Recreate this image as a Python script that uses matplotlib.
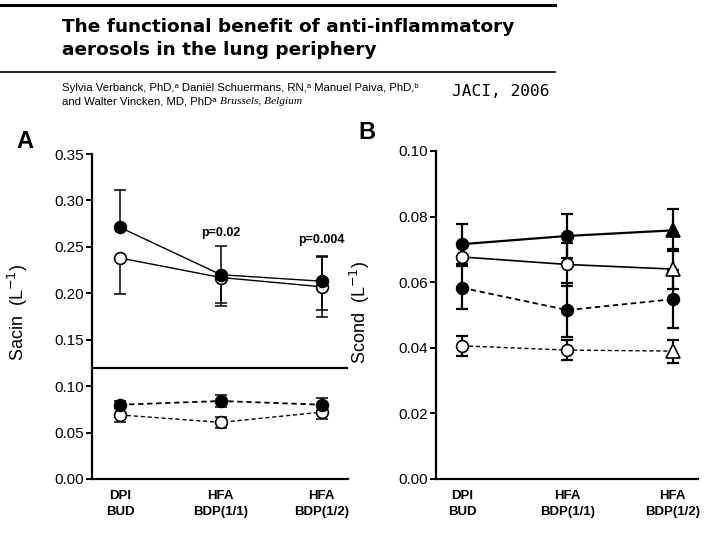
import matplotlib
matplotlib.use('Agg')
import matplotlib.pyplot as plt
from matplotlib.text import Annotation
import numpy as np

plt.rcParams['font.family'] = ['Liberation Sans', 'DejaVu Sans']

# categories on the x axis
categories = ['DPI\nBUD', 'HFA\nBDP(1/1)', 'HFA\nBDP(1/2)']

# panel A - Sacin (solid = upper pair, dashed = lower pair)
a_fill_solid = [0.271, 0.220, 0.213]
a_fill_solid_lo = [0.0, 0.030, 0.031]
a_fill_solid_hi = [0.040, 0.031, 0.027]
a_open_solid = [0.238, 0.217, 0.207]
a_open_solid_lo = [0.039, 0.031, 0.032]
a_open_solid_hi = [0.0, 0.0, 0.032]
a_fill_dash = [0.080, 0.084, 0.080]
a_fill_dash_err = [0.004, 0.006, 0.007]
a_open_dash = [0.069, 0.061, 0.072]
a_open_dash_err = [0.008, 0.006, 0.007]
p_labels = ['', 'p=0.02', 'p=0.004']
p_values_y = [0.0, 0.265, 0.257]

# panel B - Scond
b_fill_solid = [0.0716, 0.0741, 0.0758]
b_fill_solid_err = [0.0061, 0.0067, 0.0064]
b_open_solid = [0.0677, 0.0654, 0.0640]
b_open_solid_err = [0.0, 0.0065, 0.006]
b_fill_dash = [0.0583, 0.0515, 0.0548]
b_fill_dash_err = [0.0066, 0.0082, 0.0088]
b_open_dash = [0.0406, 0.0393, 0.0390]
b_open_dash_err = [0.0030, 0.0031, 0.0035]

x = np.arange(len(categories))
fig = plt.figure(figsize=(7.2, 5.4), dpi=100)

# ---- header ----
fig.add_artist(plt.Line2D([0, 555 / 720], [1 - 5 / 540] * 2, color='black', lw=2.2))
fig.add_artist(plt.Line2D([0, 555 / 720], [1 - 72 / 540] * 2, color='black', lw=1.2))
fig.text(62 / 720, 1 - 27 / 540, 'The functional benefit of anti-inflammatory',
         fontsize=13.3, fontweight='bold', family='DejaVu Sans', va='center', ha='left')
fig.text(62 / 720, 1 - 50 / 540, 'aerosols in the lung periphery',
         fontsize=13.3, fontweight='bold', family='DejaVu Sans', va='center', ha='left')
fig.text(62 / 720, 1 - 88 / 540,
         'Sylvia Verbanck, PhD,\u1d43 Daniël Schuermans, RN,\u1d43 Manuel Paiva, PhD,\u1d47',
         fontsize=8.2, va='center', ha='left')
t2 = fig.text(62 / 720, 1 - 102 / 540, 'and Walter Vincken, MD, PhD\u1d43 ',
              fontsize=8.2, va='center', ha='left')
fig.add_artist(Annotation('Brussels, Belgium', xy=(1, 0.5), xycoords=t2, va='center',
                          ha='left', fontsize=8.2, style='italic', family='Liberation Serif'))
fig.text(452 / 720, 1 - 91 / 540, 'JACI, 2006', fontsize=11.7,
         family='DejaVu Sans Mono', va='center', ha='left')

fig.text(25 / 720, 1 - 142 / 540, 'A', fontsize=17, fontweight='bold', ha='center', va='center')
fig.text(367 / 720, 1 - 133 / 540, 'B', fontsize=17, fontweight='bold', ha='center', va='center')


def style_axes(ax, ymax, step, fmt):
    for s in ['top', 'right']:
        ax.spines[s].set_visible(False)
    for s in ['left', 'bottom']:
        ax.spines[s].set_linewidth(1.6)
    ax.set_ylim(0, ymax)
    ticks = np.arange(0, ymax + step / 2, step)
    ax.set_yticks(ticks)
    ax.set_yticklabels([fmt % v for v in ticks])
    ax.tick_params(axis='y', direction='out', length=4, width=1.4, labelsize=11, pad=2)
    ax.tick_params(axis='x', length=0, pad=8)
    ax.set_xticks(x)
    ax.set_xticklabels(categories, fontsize=9.5, fontweight='bold', linespacing=1.45)


def series(ax, y, lo, hi, filled, ls, lw, ew, markers=('o', 'o', 'o')):
    ax.errorbar(x, y, yerr=[lo, hi], fmt='none', ecolor='black', elinewidth=ew,
                capsize=4, capthick=ew, zorder=2)
    ax.plot(x, y, color='black', lw=lw, ls=ls, zorder=3)
    for xi, yi, m in zip(x, y, markers):
        ax.plot(xi, yi, marker=m, ms=8.5 if m == 'o' else 9.5,
                mfc='black' if filled else 'white', mec='black', mew=1.2,
                ls='none', zorder=4)


# ---- panel A ----
axA = fig.add_axes([92 / 720, 1 - 479 / 540, 256 / 720, 325 / 540])
axA.set_xlim(-0.277, 2.26)
style_axes(axA, 0.35, 0.05, '%.2f')
dash = (0, (3, 2))
series(axA, a_open_solid, a_open_solid_lo, a_open_solid_hi, False, '-', 1.0, 1.1)
series(axA, a_fill_solid, a_fill_solid_lo, a_fill_solid_hi, True, '-', 1.0, 1.1)
series(axA, a_open_dash, a_open_dash_err, a_open_dash_err, False, dash, 1.0, 1.1)
series(axA, a_fill_dash, a_fill_dash_err, a_fill_dash_err, True, dash, 1.3, 1.1)
axA.axhline(0.12, color='black', lw=1.6, zorder=1)
for xi, lab, yv in zip(x, p_labels, p_values_y):
    if lab:
        axA.text(xi, yv, lab, fontsize=9, fontweight='bold', ha='center', va='center')
axA.set_ylabel('Sacin  (L$^{-1}$)', fontsize=13)
axA.yaxis.set_label_coords(-0.242, 0.514)

# ---- panel B ----
axB = fig.add_axes([436 / 720, 1 - 479 / 540, 262 / 720, 328 / 540])
axB.set_xlim(-0.246, 2.24)
style_axes(axB, 0.10, 0.02, '%.2f')
tri = ('o', 'o', '^')
series(axB, b_open_dash, b_open_dash_err, b_open_dash_err, False, dash, 1.0, 1.6, tri)
series(axB, b_fill_dash, b_fill_dash_err, b_fill_dash_err, True, dash, 1.3, 1.6)
series(axB, b_open_solid, b_open_solid_err, b_open_solid_err, False, '-', 1.2, 1.6, tri)
series(axB, b_fill_solid, b_fill_solid_err, b_fill_solid_err, True, '-', 1.6, 1.6, tri)
axB.set_ylabel('Scond  (L$^{-1}$)', fontsize=13)
axB.yaxis.set_label_coords(-0.244, 0.509)

fig.savefig('out.png', dpi=100)
